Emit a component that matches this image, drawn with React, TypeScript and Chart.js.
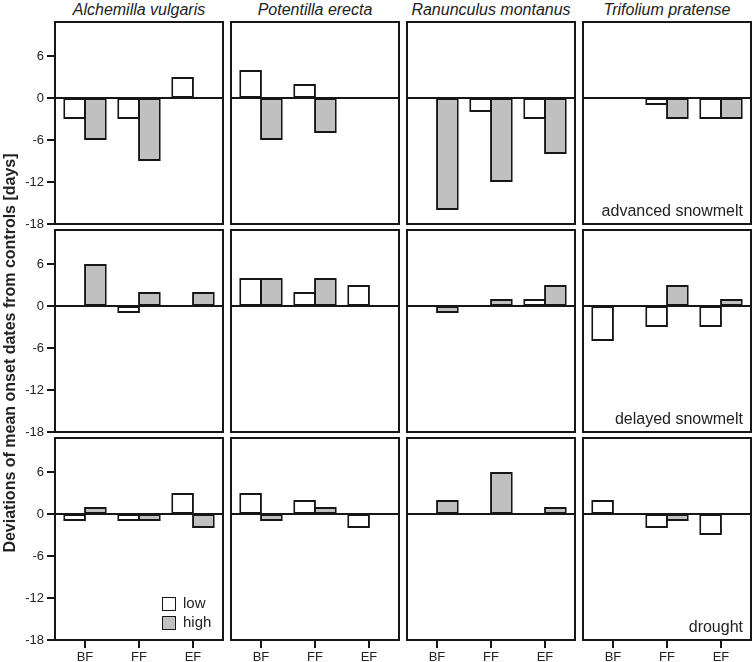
import React, { useEffect, useRef } from 'react';
import { Chart, registerables } from 'chart.js';

Chart.register(...registerables);

// ---------- data ----------
const categories = ['BF', 'FF', 'EF'];
const species = ['Alchemilla vulgaris', 'Potentilla erecta', 'Ranunculus montanus', 'Trifolium pratense'];
const treatments = ['advanced snowmelt', 'delayed snowmelt', 'drought'];
const seriesNames = ['low', 'high'];
const yTicks = [-18, -12, -6, 0, 6];
const yMin = -18;
const yMax = 10.85;

// values per species (rows of [BF, FF, EF]); null = no bar
const advancedLow = [[-3, -3, 3], [4, 2, null], [null, -2, -3], [null, -1, -3]];
const advancedHigh = [[-6, -9, null], [-6, -5, null], [-16, -12, -8], [null, -3, -3]];
const delayedLow = [[null, -1, null], [4, 2, 3], [null, null, 1], [-5, -3, -3]];
const delayedHigh = [[6, 2, 2], [4, 4, null], [-1, 1, 3], [null, 3, 1]];
const droughtLow = [[-1, -1, 3], [3, 2, -2], [null, null, null], [2, -2, -3]];
const droughtHigh = [[1, -1, -2], [-1, 1, null], [2, 6, 1], [null, -1, null]];

const lowByTreatment = [advancedLow, delayedLow, droughtLow];
const highByTreatment = [advancedHigh, delayedHigh, droughtHigh];

// ---------- style / layout ----------
const FONT = "'Liberation Sans', Arial, Helvetica, sans-serif";
const INK = '#161616';
const TEXT = '#222222';
const GREY = '#c0c0c0';
const FX = [55, 231, 407, 583]; // frame left edges
const RY = [22, 230, 438]; // frame top edges
const INSET = 3;
const CA_W = 162;
const CA_H = 202;
const X_AX = 24;

function Panel({ r, c }: { r: number; c: number }) {
  const ref = useRef<HTMLCanvasElement>(null);
  const leftAxis = c === 0;
  const bottomAxis = r === 2;
  const caLeft = FX[c] + INSET;
  const cl = leftAxis ? 0 : caLeft - 5;
  const ct = RY[r] - 2;
  const padBottom = bottomAxis ? 0 : leftAxis ? 10 : 2;
  const w = caLeft - cl + CA_W + 5;
  const h = 2 + CA_H + (bottomAxis ? X_AX : padBottom);

  useEffect(() => {
    const frame = {
      id: 'frame',
      afterDraw(chart: any) {
        const { ctx, chartArea: a, scales } = chart;
        const fl = a.left - INSET;
        const fr = a.right + INSET;
        ctx.save();
        ctx.strokeStyle = INK;
        ctx.lineWidth = 2;
        const y0 = scales.y.getPixelForValue(0);
        ctx.beginPath();
        ctx.moveTo(fl, y0);
        ctx.lineTo(fr, y0);
        ctx.stroke();
        ctx.strokeRect(fl, a.top, fr - fl, a.bottom - a.top);
        if (leftAxis) {
          ctx.beginPath();
          for (const t of scales.y.ticks) {
            const y = scales.y.getPixelForValue(t.value);
            ctx.moveTo(fl - 8, y);
            ctx.lineTo(fl, y);
          }
          ctx.stroke();
        }
        ctx.restore();
      },
    };

    const chart = new Chart(ref.current as HTMLCanvasElement, {
      type: 'bar',
      data: {
        labels: categories,
        datasets: [
          {
            label: seriesNames[0],
            data: lowByTreatment[r][c],
            backgroundColor: '#ffffff',
            borderColor: INK,
            borderWidth: 2,
            borderSkipped: false,
          },
          {
            label: seriesNames[1],
            data: highByTreatment[r][c],
            backgroundColor: GREY,
            borderColor: INK,
            borderWidth: 2,
            borderSkipped: false,
          },
        ],
      },
      options: {
        responsive: false,
        animation: false,
        devicePixelRatio: 1,
        layout: { padding: { left: leftAxis ? 0 : 5, right: 5, top: 2, bottom: padBottom } },
        plugins: { legend: { display: false }, tooltip: { enabled: false } },
        datasets: { bar: { categoryPercentage: 0.77, barPercentage: 1.09 } },
        scales: {
          x: {
            display: bottomAxis,
            offset: true,
            grid: { offset: false, drawOnChartArea: false, drawTicks: true, tickLength: 8, color: INK, lineWidth: 2 },
            border: { display: false },
            ticks: { font: { family: FONT, size: 13 }, color: TEXT, padding: 2, maxRotation: 0, autoSkip: false },
            afterFit: (s: any) => {
              if (bottomAxis) s.height = X_AX;
              s.paddingLeft = 0;
              s.paddingRight = 0;
            },
          },
          y: {
            display: leftAxis,
            min: yMin,
            max: yMax,
            afterBuildTicks: (s: any) => {
              s.ticks = yTicks.map((v) => ({ value: v }));
            },
            grid: { display: false, drawTicks: false },
            border: { display: false },
            ticks: { font: { family: FONT, size: 13 }, color: TEXT, padding: INSET + 8 + 3 },
            afterFit: (s: any) => {
              if (leftAxis) s.width = caLeft;
              s.paddingTop = 0;
              s.paddingBottom = 0;
            },
          },
        },
      } as any,
      plugins: [frame],
    });
    return () => chart.destroy();
  }, []);

  return (
    <canvas
      ref={ref}
      width={w}
      height={h}
      style={{ position: 'absolute', left: cl, top: ct, width: w, height: h }}
    />
  );
}

export default function App() {
  const panels: JSX.Element[] = [];
  for (let r = 0; r < 3; r++) for (let c = 0; c < 4; c++) panels.push(<Panel key={`${r}-${c}`} r={r} c={c} />);
  const labelBase = [216, 424, 632];
  return (
    <div
      style={{
        position: 'absolute',
        left: 0,
        top: 0,
        width: 755,
        height: 662,
        overflow: 'hidden',
        background: '#fff',
        fontFamily: FONT,
        color: TEXT,
      }}
    >
      {panels}
      {species.map((s, c) => (
        <div
          key={s}
          style={{
            position: 'absolute',
            left: FX[c],
            top: 2,
            width: 168,
            textAlign: 'center',
            fontStyle: 'italic',
            fontSize: 16,
            lineHeight: '16px',
            whiteSpace: 'nowrap',
          }}
        >
          {s}
        </div>
      ))}
      {treatments.map((t, r) => (
        <div
          key={t}
          style={{
            position: 'absolute',
            right: 12,
            top: labelBase[r] - 13.5,
            fontSize: 16,
            lineHeight: '16px',
            whiteSpace: 'nowrap',
          }}
        >
          {t}
        </div>
      ))}
      <div
        style={{
          position: 'absolute',
          left: 10 - 300,
          top: 353 - 10,
          width: 600,
          height: 20,
          lineHeight: '20px',
          textAlign: 'center',
          fontWeight: 'bold',
          fontSize: 16,
          transform: 'rotate(-90deg)',
          whiteSpace: 'nowrap',
        }}
      >
        Deviations of mean onset dates from controls [days]
      </div>
      {seriesNames.map((n, i) => (
        <div key={n}>
          <div
            style={{
              position: 'absolute',
              left: 162,
              top: 597 + i * 19,
              width: 14,
              height: 14,
              boxSizing: 'border-box',
              border: `1.5px solid ${INK}`,
              background: i === 0 ? '#ffffff' : GREY,
            }}
          />
          <div
            style={{
              position: 'absolute',
              left: 183,
              top: 595 + i * 19,
              fontSize: 15,
              lineHeight: '16px',
            }}
          >
            {n}
          </div>
        </div>
      ))}
    </div>
  );
}
